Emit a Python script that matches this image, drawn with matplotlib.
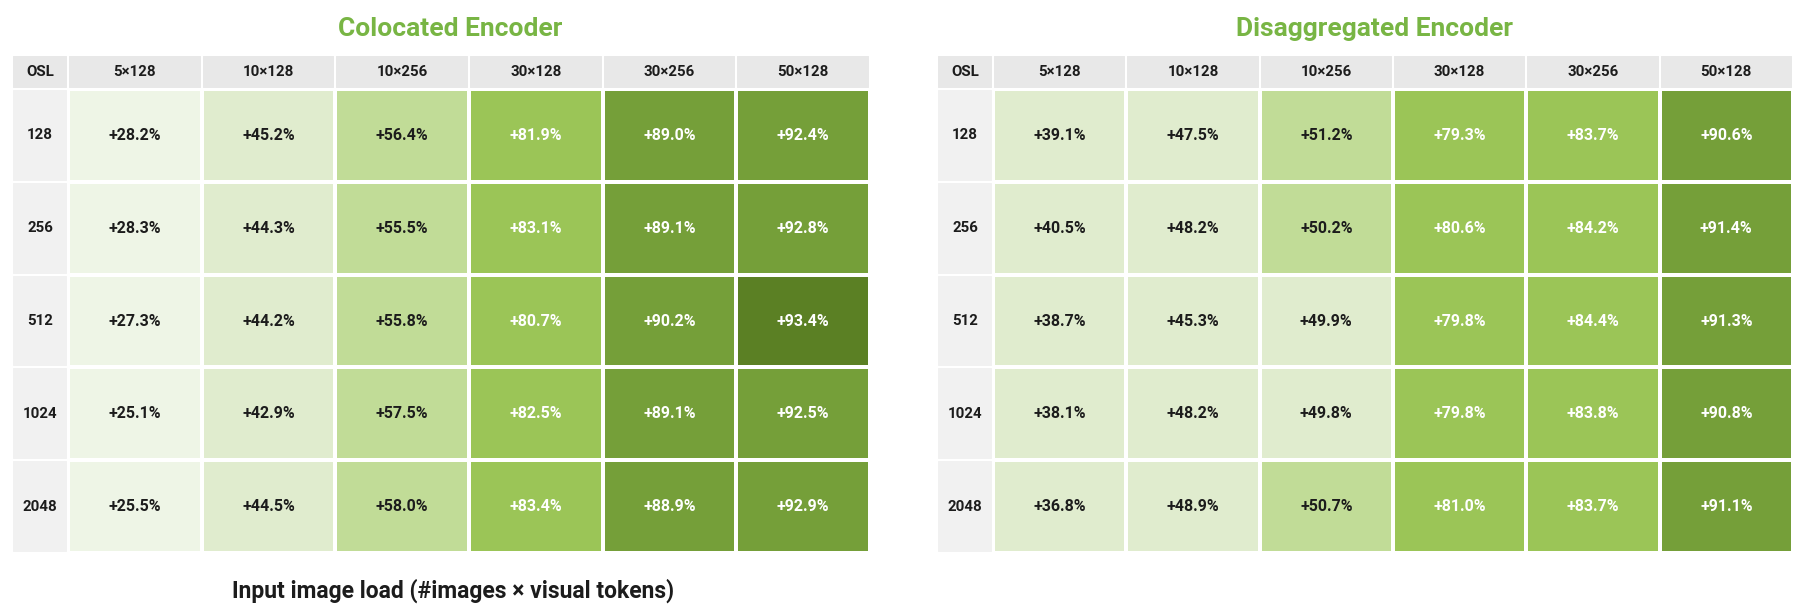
import numpy as np
import matplotlib
matplotlib.use('Agg')
import matplotlib.pyplot as plt
from matplotlib.colors import ListedColormap, BoundaryNorm
from matplotlib.patches import Rectangle

plt.rcParams['font.family'] = ['Roboto', 'DejaVu Sans']

# ---- data ----
col_labels = ['5×128', '10×128', '10×256', '30×128', '30×256', '50×128']
osl_labels = ['128', '256', '512', '1024', '2048']

colocated = [
    [28.2, 45.2, 56.4, 81.9, 89.0, 92.4],
    [28.3, 44.3, 55.5, 83.1, 89.1, 92.8],
    [27.3, 44.2, 55.8, 80.7, 90.2, 93.4],
    [25.1, 42.9, 57.5, 82.5, 89.1, 92.5],
    [25.5, 44.5, 58.0, 83.4, 88.9, 92.9],
]
disaggregated = [
    [39.1, 47.5, 51.2, 79.3, 83.7, 90.6],
    [40.5, 48.2, 50.2, 80.6, 84.2, 91.4],
    [38.7, 45.3, 49.9, 79.8, 84.4, 91.3],
    [38.1, 48.2, 49.8, 79.8, 83.8, 90.8],
    [36.8, 48.9, 50.7, 81.0, 83.7, 91.1],
]

# ---- styling ----
bin_edges = [0, 30, 50, 60, 85, 93, 100]
bin_colors = ['#eef5e6', '#e0ecce', '#c1dc97', '#9bc557', '#759f39', '#5b8024']
cmap = ListedColormap(bin_colors)
norm = BoundaryNorm(bin_edges, cmap.N)

GREEN_TITLE = '#78b544'
HEADER_BG = '#e8e8e8'
OSL_BG = '#f1f1f1'
DARK = '#1c1c1c'
WHITE_THRESHOLD = 60

W, H = 1814, 612
OSL_W = 56 / 133.3     # width of OSL column, in data-column units
HDR_H = 34 / 92.8      # height of header row, in data-row units


def draw_table(fig, rect, values):
    ax = fig.add_axes(rect)
    vals = np.array(values)
    nrows, ncols = vals.shape

    ax.pcolormesh(np.arange(ncols + 1), np.arange(nrows + 1), vals,
                  cmap=cmap, norm=norm, edgecolors='white', linewidth=1.5)

    # header row
    ax.add_patch(Rectangle((-OSL_W, -HDR_H), OSL_W, HDR_H, facecolor=HEADER_BG,
                           edgecolor='white', linewidth=1.5))
    ax.text(-OSL_W / 2, -HDR_H / 2, 'OSL', ha='center', va='center',
            fontsize=10.8, fontweight='bold', color=DARK)
    for j, lab in enumerate(col_labels):
        ax.add_patch(Rectangle((j, -HDR_H), 1, HDR_H, facecolor=HEADER_BG,
                               edgecolor='white', linewidth=1.5))
        ax.text(j + 0.5, -HDR_H / 2, lab, ha='center', va='center',
                fontsize=10.8, fontweight='bold', color=DARK)

    # OSL column
    for i, lab in enumerate(osl_labels):
        ax.add_patch(Rectangle((-OSL_W, i), OSL_W, 1, facecolor=OSL_BG,
                               edgecolor='white', linewidth=1.5))
        ax.text(-OSL_W / 2, i + 0.5, lab, ha='center', va='center',
                fontsize=10.8, fontweight='bold', color=DARK)

    # cell values
    for i in range(nrows):
        for j in range(ncols):
            v = vals[i, j]
            c = 'white' if v >= WHITE_THRESHOLD else DARK
            ax.text(j + 0.5, i + 0.5, f'+{v:.1f}%', ha='center', va='center',
                    fontsize=11.5, fontweight='bold', color=c)

    ax.set_xlim(-OSL_W, ncols)
    ax.set_ylim(nrows, -HDR_H)
    ax.axis('off')
    return ax


fig = plt.figure(figsize=(W / 100, H / 100), dpi=100)
fig.patch.set_facecolor('white')

# table boxes in pixels (left, top, right, bottom)
left_px = (12, 55, 870, 553)
right_px = (937, 55, 1793, 553)


def px_rect(box):
    l, t, r, b = box
    return [l / W, (H - b) / H, (r - l) / W, (b - t) / H]


draw_table(fig, px_rect(left_px), colocated)
draw_table(fig, px_rect(right_px), disaggregated)

fig.text(450 / W, (H - 36) / H, 'Colocated Encoder', ha='center', va='baseline',
         fontsize=19, fontweight='bold', color=GREEN_TITLE)
fig.text(1374 / W, (H - 36) / H, 'Disaggregated Encoder', ha='center', va='baseline',
         fontsize=19, fontweight='bold', color=GREEN_TITLE)

fig.text(453 / W, (H - 598) / H, 'Input image load (#images × visual tokens)',
         ha='center', va='baseline', fontsize=16.5, fontweight='bold', color=DARK)

fig.savefig('out.png', dpi=100, facecolor='white')
